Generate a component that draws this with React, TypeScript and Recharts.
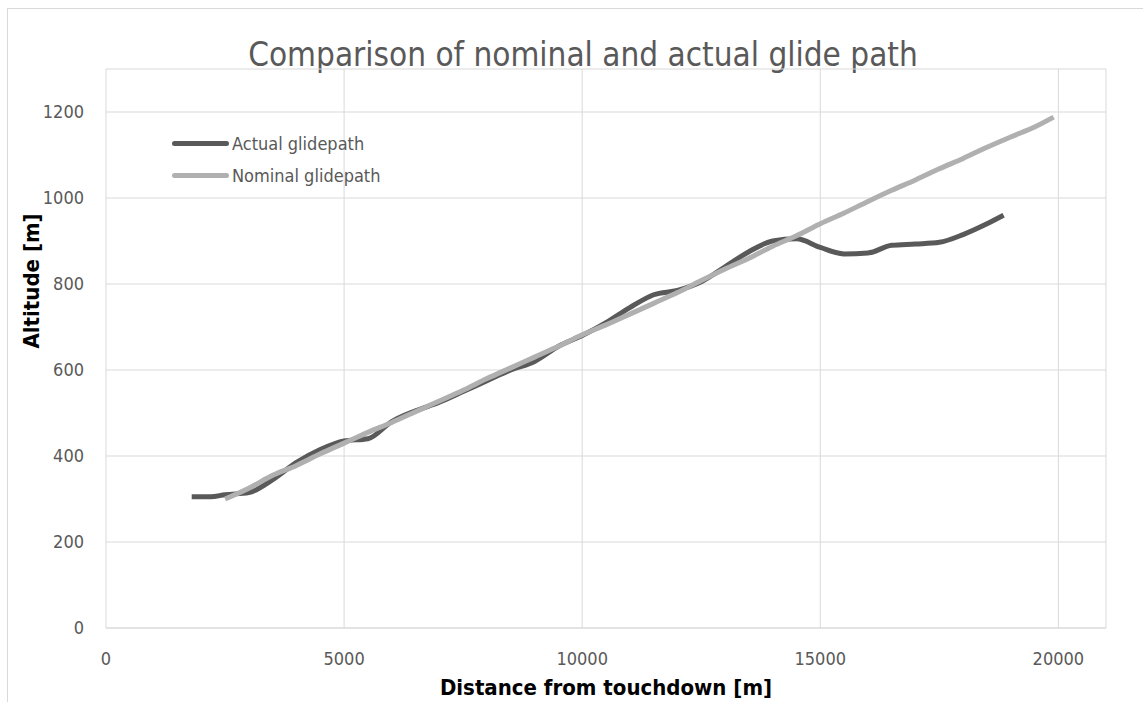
import React from "react";
import { LineChart, Line, XAxis, YAxis, CartesianGrid } from "recharts";

const actualDistance = [1800, 2200, 2500, 3000, 3500, 4000, 4500, 5000, 5500, 6000, 6500, 7000, 7500, 8000, 8500, 9000, 9500, 10000, 10500, 11000, 11500, 12000, 12500, 13000, 13500, 14000, 14500, 15000, 15500, 16000, 16500, 17000, 17500, 18000, 18500, 18850];
const actualAltitude = [305, 305, 310, 315, 345, 385, 415, 435, 440, 480, 505, 525, 550, 575, 600, 620, 655, 680, 710, 745, 775, 785, 805, 840, 875, 900, 905, 885, 870, 872, 890, 893, 897, 915, 940, 960];

const nominalDistance = [2500, 3000, 3500, 4000, 4500, 5000, 5500, 6000, 6500, 7000, 7500, 8000, 8500, 9000, 9500, 10000, 10500, 11000, 11500, 12000, 12500, 13000, 13500, 14000, 14500, 15000, 15500, 16000, 16500, 17000, 17500, 18000, 18500, 19000, 19500, 19900];
const nominalAltitude = [300, 325, 355, 378, 405, 430, 455, 478, 503, 528, 553, 580, 605, 630, 655, 682, 705, 730, 755, 780, 808, 835, 860, 888, 912, 940, 965, 992, 1018, 1042, 1068, 1092, 1118, 1142, 1165, 1188];

const xTicks = [0, 5000, 10000, 15000, 20000];
const yTicks = [0, 200, 400, 600, 800, 1000, 1200];

const FONT = "'Liberation Sans Narrow', 'DejaVu Sans Condensed', 'Open Sans', sans-serif";
const TEXT = "#595959";

const actual = actualDistance.map((d, i) => ({ distance: d, altitude: actualAltitude[i] }));
const nominal = nominalDistance.map((d, i) => ({ distance: d, altitude: nominalAltitude[i] }));

const legendItems = [
    { name: "Actual glidepath", color: "#595959" },
    { name: "Nominal glidepath", color: "#b0b0b0" },
];

export default function App() {
    return (
        <div style={{ position: "absolute", left: 0, top: 0, width: 1143, height: 702, background: "#fff", fontFamily: FONT }}>
            {/* chart frame */}
            <div style={{ position: "absolute", left: 7, top: 8, width: 1150, height: 700, borderLeft: "1px solid #d9d9d9", borderTop: "1px solid #d9d9d9" }} />
            <div style={{ position: "absolute", left: 0, top: 35, width: 1166, textAlign: "center", fontSize: 33, color: TEXT }}>
                Comparison of nominal and actual glide path
            </div>
            <LineChart width={1143} height={702} margin={{ top: 69, right: 37, bottom: 34, left: 0 }}>
                <CartesianGrid stroke="#d9d9d9" />
                <XAxis
                    type="number"
                    dataKey="distance"
                    domain={[0, 21000]}
                    ticks={xTicks}
                    allowDataOverflow
                    height={40}
                    tickLine={false}
                    tickSize={0}
                    tickMargin={24}
                    axisLine={{ stroke: "#d9d9d9" }}
                    tick={{ fill: TEXT, fontSize: 18, fontFamily: FONT }}
                    label={{ value: "Distance from touchdown [m]", position: "insideBottom", offset: -27, fill: "#000", fontSize: 22, fontWeight: "bold", fontFamily: FONT }}
                />
                <YAxis
                    type="number"
                    dataKey="altitude"
                    domain={[0, 1300]}
                    ticks={yTicks}
                    width={106}
                    tickLine={false}
                    tickSize={0}
                    tickMargin={22}
                    axisLine={false}
                    tick={{ fill: TEXT, fontSize: 18, fontFamily: FONT }}
                    label={{ value: "Altitude [m]", angle: -90, position: "insideLeft", offset: 31, fill: "#000", fontSize: 22, fontWeight: "bold", fontFamily: FONT }}
                />
                <Line data={actual} dataKey="altitude" name="Actual glidepath" stroke="#595959" strokeWidth={5} dot={false} type="monotone" isAnimationActive={false} />
                <Line data={nominal} dataKey="altitude" name="Nominal glidepath" stroke="#b0b0b0" strokeWidth={5} dot={false} type="monotone" isAnimationActive={false} />
            </LineChart>
            {/* legend */}
            <div style={{ position: "absolute", left: 172, top: 127, fontSize: 18, color: TEXT }}>
                {legendItems.map((it) => (
                    <div key={it.name} style={{ display: "flex", alignItems: "center", height: 32 }}>
                        <span style={{ display: "inline-block", width: 57, height: 5, borderRadius: 3, background: it.color, marginRight: 3 }} />
                        {it.name}
                    </div>
                ))}
            </div>
        </div>
    );
}
